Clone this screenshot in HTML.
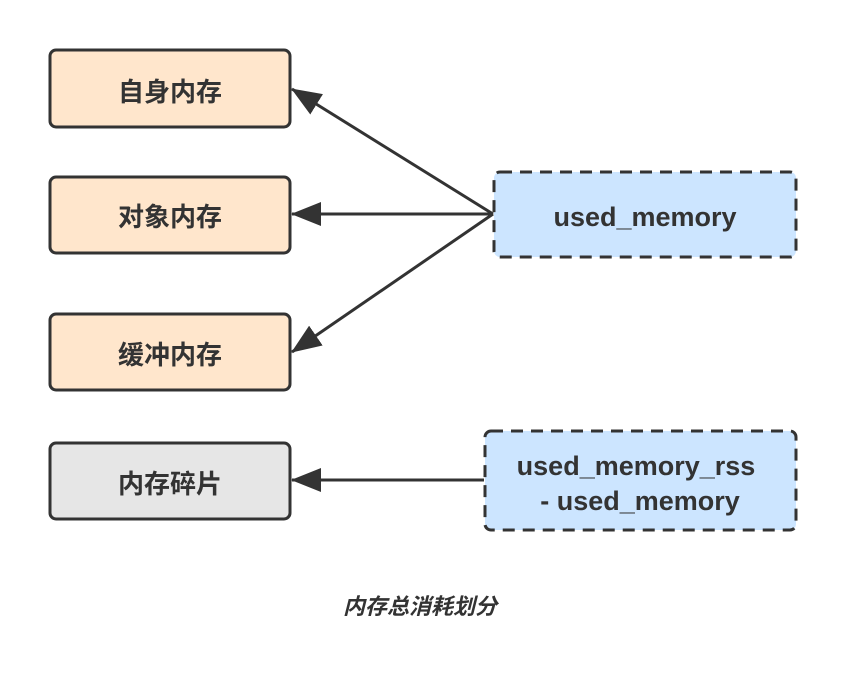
<!DOCTYPE html>
<html><head><meta charset="utf-8"><style>
html,body{margin:0;padding:0;background:#fff;width:846px;height:690px;overflow:hidden}
svg text{font-family:"Liberation Sans","Noto Sans CJK SC",sans-serif;font-weight:bold;fill:#333}
</style></head><body>
<svg width="846" height="690" xmlns="http://www.w3.org/2000/svg">
<defs><marker id="a" markerWidth="10" markerHeight="10" refX="9" refY="5" orient="auto" markerUnits="userSpaceOnUse" viewBox="0 0 10 10"><path d="M0,0 L10,5 L0,10 z" fill="#333"/></marker>
<marker id="b" markerWidth="30" markerHeight="24" refX="29" refY="12" orient="auto" markerUnits="userSpaceOnUse"><path d="M0,0 L30,12 L0,24 z" fill="#333"/></marker></defs>
<g stroke="#333" stroke-width="3">
<rect x="50" y="50" width="240" height="77" rx="6" fill="#ffe6cc"/>
<rect x="50" y="177" width="240" height="76" rx="6" fill="#ffe6cc"/>
<rect x="50" y="314" width="240" height="76" rx="6" fill="#ffe6cc"/>
<rect x="50" y="443" width="240" height="76" rx="6" fill="#e6e6e6"/>
<rect x="494" y="172" width="302" height="85" rx="6" fill="#cce5ff" stroke-dasharray="12 8"/>
<rect x="485" y="431" width="311" height="99" rx="6" fill="#cce5ff" stroke-dasharray="12 8"/>
<line x1="493" y1="214" x2="292" y2="89" marker-end="url(#b)"/>
<line x1="493" y1="214" x2="292" y2="214" marker-end="url(#b)"/>
<line x1="493" y1="214" x2="292" y2="352" marker-end="url(#b)"/>
<line x1="484" y1="480" x2="292" y2="480" marker-end="url(#b)"/>
</g>
<g font-size="26" text-anchor="middle">
<text x="170" y="101">自身内存</text>
<text x="170" y="226">对象内存</text>
<text x="170" y="364">缓冲内存</text>
<text x="170" y="493">内存碎片</text>
<text x="645" y="226" font-size="27">used_memory</text>
<text x="636" y="475" font-size="27">used_memory_rss</text>
<text x="640" y="510" font-size="27">- used_memory</text>
<text x="420" y="614" font-size="22" font-style="italic">内存总消耗划分</text>
</g>
</svg>
</body></html>
